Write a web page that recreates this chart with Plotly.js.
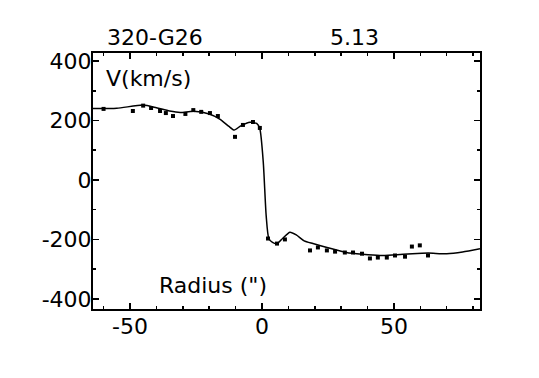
<!DOCTYPE html>
<html>
<head>
<meta charset="utf-8">
<script src="https://cdn.plot.ly/plotly-3.0.1.min.js"></script>
<style>
  html, body { margin: 0; padding: 0; background: #fff; }
  #plot { width: 539px; height: 378px; }
</style>
</head>
<body>
<div id="plot"></div>
<script>
// rotation curve model (line)
const modelR = [-64, -55, -45, -40, -35, -31, -26, -20, -16, -12.5, -10.5, -8, -4.5, -2, -0.8, 0.5, 1.6, 2.6, 4, 5.7, 8, 10.6, 13, 16, 19.3, 25, 32, 38, 44.7, 50, 57, 63, 70, 76, 82.6];
const modelV = [240, 241, 252, 243, 232, 227, 231, 222, 205, 180, 168, 182, 194, 190, 172, 60, -120, -197, -210, -214, -195, -176, -185, -205, -214, -228, -244, -250, -254, -252, -248, -246, -248, -242, -231];

// observed points
const obsR = [-60, -48.9, -45, -42, -38.6, -36.4, -33.7, -29, -26, -23, -19.7, -16.7, -10.2, -7.2, -3.4, -0.8,
  2.3, 5.7, 8.7, 18.2, 21.2, 24.6, 27.7, 31.4, 34.5, 37.9, 40.9, 43.9, 47.3, 50.4, 54.2, 56.8, 59.8, 62.9];
const obsV = [239, 232, 250, 242, 232, 225, 215, 222, 235, 229, 225, 215, 145, 185, 195, 175,
  -197, -214, -200, -237, -227, -237, -241, -244, -244, -248, -264, -261, -261, -254, -258, -224, -220, -254];

const xTicks = [-50, 0, 50];
const xTickText = ["-50", "0", "50"];
const yTicks = [-400, -200, 0, 200, 400];
const yTickText = ["-400", "-200", "0", "200", "400"];

const galaxyName = "320-G26";
const galaxyValue = "5.13";

const font = { family: "DejaVu Sans, Verdana, sans-serif", size: 22, color: "#000" };

const axisCommon = {
  showgrid: false, zeroline: false,
  showline: true, linecolor: "#000", linewidth: 2, mirror: "ticks",
  ticks: "inside", ticklen: 6, tickwidth: 1.5, tickcolor: "#000",
  tickfont: font, tickmode: "array"
};

Plotly.newPlot("plot", [
  {
    x: modelR, y: modelV, mode: "lines", type: "scatter",
    line: { color: "#000", width: 1.5, shape: "spline", smoothing: 0.6 },
    hoverinfo: "skip", showlegend: false
  },
  {
    x: obsR, y: obsV, mode: "markers", type: "scatter",
    marker: { color: "#000", size: 4, symbol: "square" },
    showlegend: false
  }
], {
  width: 539, height: 378,
  paper_bgcolor: "#fff", plot_bgcolor: "#fff",
  margin: { l: 93, r: 59, t: 53, b: 69 },
  font: font,
  showlegend: false,
  xaxis: {
    ...axisCommon, range: [-64, 82.6], tickvals: xTicks, ticktext: xTickText,
    ticklabelstandoff: -3,
    minor: { ticks: "inside", ticklen: 3, tickcolor: "#000", dtick: 10, tick0: 0 }
  },
  yaxis: {
    ...axisCommon, range: [-434, 427], tickvals: yTicks, ticktext: yTickText,
    ticklabelstandoff: -5,
    minor: { ticks: "inside", ticklen: 3, tickcolor: "#000", dtick: 100, tick0: 0 }
  },
  annotations: [
    { text: galaxyName, xref: "paper", yref: "paper", x: (155 - 93) / 387, y: (309 - 37) / 256, xanchor: "center", yanchor: "middle", showarrow: false, font: font },
    { text: galaxyValue, xref: "paper", yref: "paper", x: (354 - 93) / 387, y: (309 - 37) / 256, xanchor: "center", yanchor: "middle", showarrow: false, font: font },
    { text: "V(km/s)", xref: "paper", yref: "paper", x: (104 - 93) / 387, y: (309 - 78) / 256, xanchor: "left", yanchor: "middle", showarrow: false, font: font },
    { text: "Radius (\")", xref: "paper", yref: "paper", x: (213 - 93) / 387, y: (309 - 285) / 256, xanchor: "center", yanchor: "middle", showarrow: false, font: font }
  ]
}, { displayModeBar: false, staticPlot: true });
</script>
</body>
</html>
